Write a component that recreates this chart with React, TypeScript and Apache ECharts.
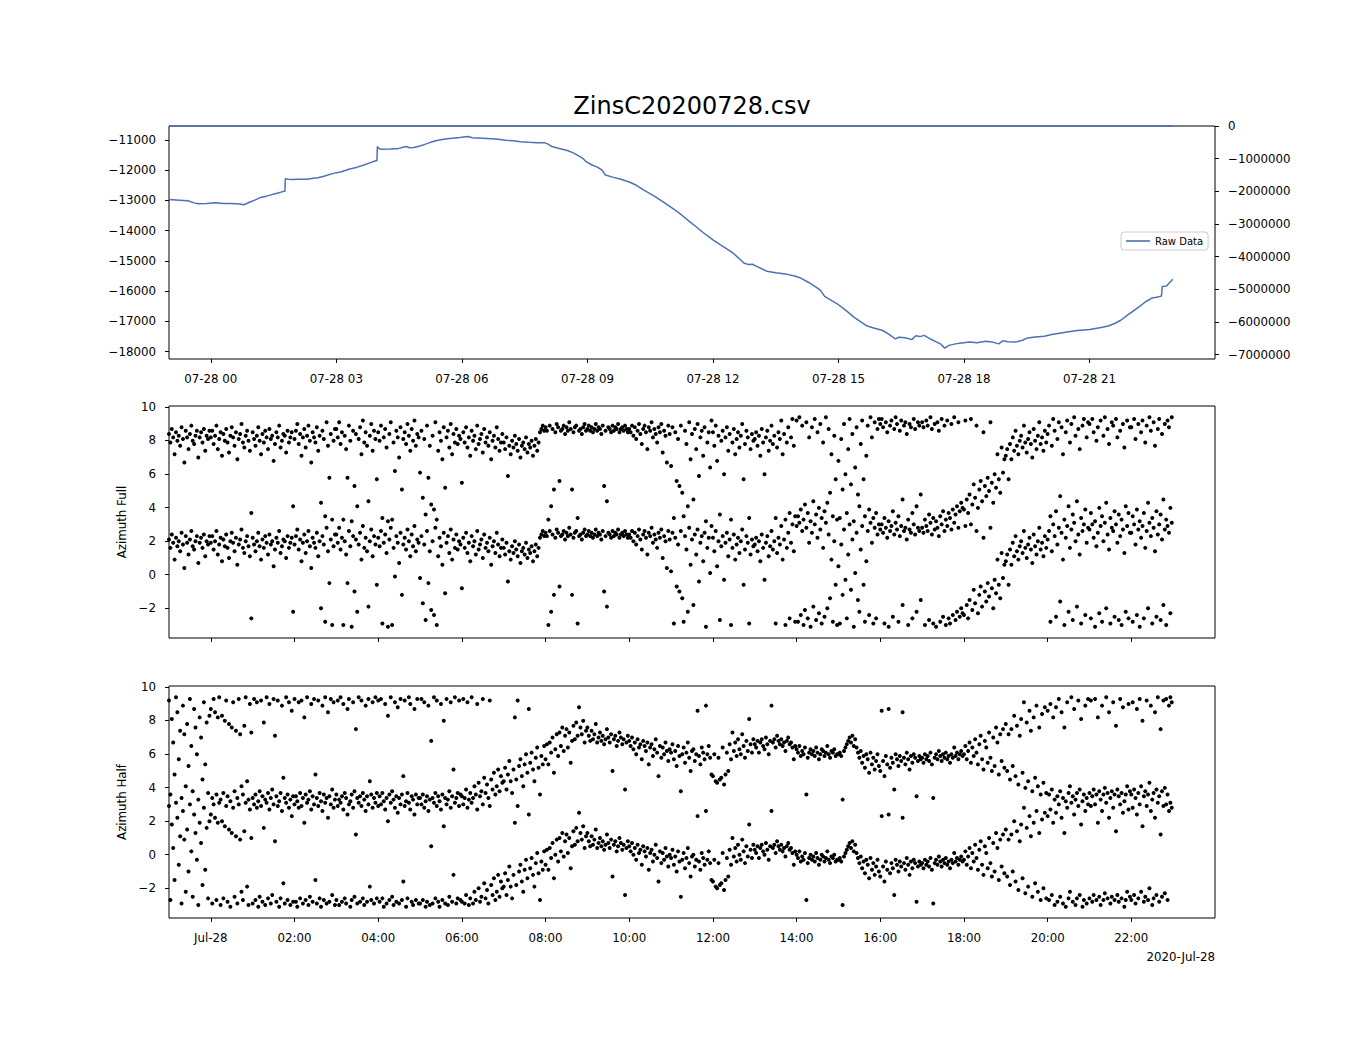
import React, { useEffect, useRef } from "react";
import * as echarts from "echarts";

const TITLE = "ZinsC20200728.csv";
const DATE_NOTE = "2020-Jul-28";

// Raw data line (hours relative to 2020-07-28 00:00)
const RAW_HOURS = [
  -1.0, -0.75, -0.55, -0.4, -0.3, -0.1, 0.1, 0.3, 0.46, 0.6, 0.7, 0.78, 0.85, 0.92, 1.05, 1.19, 1.35, 1.56, 1.74, 1.77,
  1.78, 1.85, 1.92, 2.1, 2.29, 2.45, 2.56, 2.7, 2.93, 3.1, 3.3, 3.5, 3.66, 3.8, 3.94, 3.97, 3.98, 4.03, 4.07, 4.3,
  4.49, 4.6, 4.67, 4.75, 4.85, 5.0, 5.13, 5.25, 5.4, 5.6, 5.77, 5.95, 6.14, 6.25, 6.5, 6.7, 6.87, 7.05, 7.23, 7.4,
  7.6, 7.8, 7.97, 8.05, 8.15, 8.35, 8.52, 8.65, 8.79, 8.9, 8.97, 9.1, 9.25, 9.35, 9.43, 9.6, 9.8, 10.0, 10.16, 10.35,
  10.6, 10.81, 11.08, 11.25, 11.45, 11.6, 11.75, 12.0, 12.2, 12.35, 12.5, 12.74, 12.85, 12.94, 13.05, 13.29, 13.5, 13.78, 13.95, 14.08,
  14.3, 14.5, 14.57, 14.67, 14.8, 14.97, 15.2, 15.37, 15.5, 15.66, 15.8, 16.06, 16.2, 16.36, 16.45, 16.6, 16.75, 16.85, 16.95, 17.05,
  17.2, 17.35, 17.45, 17.54, 17.64, 17.8, 17.94, 18.14, 18.3, 18.53, 18.7, 18.83, 18.93, 19.05, 19.23, 19.4, 19.52, 19.7, 19.92, 20.1,
  20.32, 20.5, 20.71, 21.01, 21.31, 21.45, 21.6, 21.75, 21.9, 22.05, 22.2, 22.35, 22.49, 22.6, 22.69, 22.72, 22.74, 22.84, 22.9, 22.99,
];
const RAW_VALUES = [
  -12970, -12990, -13010, -13080, -13110, -13100, -13080, -13100, -13100, -13110, -13120, -13145, -13110, -13060, -12990, -12900, -12850, -12770, -12700, -12700,
  -12280, -12300, -12310, -12300, -12300, -12270, -12250, -12200, -12106, -12060, -11970, -11900, -11830, -11760, -11690, -11690, -11220, -11290, -11310, -11300,
  -11280, -11240, -11220, -11260, -11250, -11200, -11140, -11080, -11020, -10970, -10945, -10920, -10890, -10930, -10945, -10960, -10980, -11010, -11030, -11060,
  -11080, -11090, -11090, -11130, -11220, -11290, -11350, -11420, -11530, -11620, -11720, -11820, -11907, -12000, -12160, -12230, -12300, -12390, -12490, -12660,
  -12860, -13045, -13300, -13480, -13710, -13870, -14043, -14300, -14484, -14620, -14760, -15070, -15120, -15110, -15180, -15343, -15390, -15443, -15500, -15553,
  -15720, -15900, -15974, -16172, -16280, -16415, -16660, -16856, -16980, -17132, -17200, -17298, -17420, -17573, -17520, -17540, -17600, -17473, -17500, -17460,
  -17580, -17682, -17750, -17880, -17790, -17740, -17715, -17682, -17700, -17650, -17690, -17740, -17640, -17670, -17682, -17620, -17543, -17510, -17490, -17430,
  -17380, -17340, -17300, -17268, -17190, -17150, -17068, -16960, -16800, -16650, -16500, -16340, -16225, -16200, -16170, -16160, -15840, -15830, -15740, -15608,
];
// Secondary (right) axis series: flat at 0
const TWIN_HOURS = [-1.0, 23.0];
const TWIN_VALUES = [0, 0];

const TOP_TICKS = [0, 3, 6, 9, 12, 15, 18, 21];
const TOP_TICK_LABELS = ["07-28 00", "07-28 03", "07-28 06", "07-28 09", "07-28 12", "07-28 15", "07-28 18", "07-28 21"];
const BOTTOM_TICKS = [0, 2, 4, 6, 8, 10, 12, 14, 16, 18, 20, 22];
const BOTTOM_TICK_LABELS = ["Jul-28", "02:00", "04:00", "06:00", "08:00", "10:00", "12:00", "14:00", "16:00", "18:00", "20:00", "22:00"];
const LEFT_TICKS = [-18000, -17000, -16000, -15000, -14000, -13000, -12000, -11000];
const RIGHT_TICKS = [-7000000, -6000000, -5000000, -4000000, -3000000, -2000000, -1000000, 0];
const AZ_TICKS = [-2, 0, 2, 4, 6, 8, 10];

// Azimuth samples: one row per hour starting at 2020-07-27 23:00, 30 samples per hour (2 min)
const SAMPLE_START_HOUR = -1;
const SAMPLES_PER_HOUR = 30;

const FULL_ROWS = [
  [2.1,1.6,2.4,1.9,0.9,2.2,1.7,2.0,1.4,2.5,1.8,0.4,2.3,1.9,1.2,2.1,2.6,1.7,1.5,2.0,2.3,0.7,1.9,2.2,1.6,2.4,1.1,2.0,1.8,2.3],
  [1.9,2.3,1.5,2.0,2.6,1.2,1.8,2.2,0.8,2.1,1.7,2.4,1.6,1.0,2.0,2.5,1.9,1.4,2.2,0.6,1.8,2.1,2.7,1.6,1.3,2.0,2.3,1.7,1.1,-2.6],
  [2.2,1.8,1.4,2.0,2.5,1.7,0.9,2.1,1.6,2.3,1.9,1.2,2.4,1.8,2.0,0.5,1.5,2.2,1.9,2.6,1.3,1.7,2.1,2.0,1.0,2.3,1.6,1.9,2.2,-2.2],
  [1.8,2.3,2.7,1.5,2.1,0.8,1.9,2.4,1.3,2.0,2.6,1.7,0.4,2.2,1.9,1.6,2.5,1.1,2.0,-2.0,2.3,1.8,-2.8,2.8,1.4,-0.5,2.1,-3.0,1.7,2.4],
  [2.4,1.9,2.8,1.5,2.2,-3.0,2.0,1.2,-0.5,2.6,1.7,-3.1,2.3,-1.0,2.1,-2.2,1.8,2.5,0.9,2.9,1.6,2.2,1.4,-1.9,2.0,2.7,1.1,2.3,1.8,-0.6],
  [2.2,1.7,2.6,-2.9,1.9,2.4,1.3,-3.1,2.1,2.8,-3.0,1.6,-0.1,2.3,1.9,0.7,2.5,-1.2,1.8,2.2,1.5,2.7,2.0,1.1,2.4,1.7,2.9,1.4,2.1,1.9],
  [-0.2,2.3,-1.7,1.8,-2.7,2.6,-0.5,1.4,-2.1,2.0,-2.4,2.8,-3.0,1.1,2.2,1.7,0.6,2.5,-1.1,1.9,2.3,1.3,2.7,0.9,2.1,1.6,2.4,1.5,2.0,1.8],
  [-0.8,2.2,1.6,2.5,1.3,1.9,0.8,2.3,1.7,2.0,1.2,2.6,1.5,1.8,2.1,1.0,2.4,1.6,1.9,1.4,2.2,0.6,1.7,2.0,1.3,2.5,1.8,1.1,1.6,2.1],
  [1.6,1.2,1.9,-0.4,1.4,0.9,1.7,1.3,2.0,1.5,1.1,1.8,0.7,1.4,1.6,1.2,1.9,1.0,1.5,1.3,1.7,0.8,1.4,1.8,1.1,1.6,2.2,2.4,2.6,2.3],
  [2.5,2.3,-3.0,2.6,-2.2,2.4,-1.2,2.2,2.7,2.5,-0.7,2.3,2.4,2.6,2.1,2.5,2.3,2.8,2.4,-1.2,2.2,2.5,2.6,-2.9,2.3,2.4,2.1,2.5,2.7,2.3],
  [2.4,2.6,2.3,2.5,2.2,2.4,2.7,2.3,2.5,2.4,2.1,2.6,-1.0,2.3,-1.9,2.5,2.4,2.2,2.6,2.3,2.5,2.4,2.7,2.2,2.4,2.5,2.3,2.6,2.4,2.2],
  [2.4,2.2,2.6,2.0,2.5,1.8,2.3,2.7,2.1,1.5,2.4,2.6,2.2,1.2,2.5,2.3,2.8,1.9,2.4,2.1,1.6,2.5,2.2,2.7,1.0,2.3,2.0,0.4,2.6,2.1],
  [0.2,2.5,-2.9,2.2,-0.7,1.8,-1.0,2.6,-1.4,-2.8,2.3,1.5,-2.2,2.8,0.6,2.1,-1.8,2.4,1.2,2.7,-0.4,1.9,2.3,0.8,2.5,-3.1,1.6,2.2,0.1,2.9],
  [2.2,1.4,2.6,0.5,2.0,-2.7,1.7,2.3,-0.3,1.9,2.5,1.1,2.1,-3.0,1.6,2.4,0.9,1.8,2.2,1.3,2.0,2.7,-0.6,1.5,2.3,1.9,-2.9,1.2,2.1,1.7],
  [1.8,2.2,1.4,2.0,0.8,2.4,1.6,-0.3,1.9,2.3,1.1,1.7,2.6,1.5,2.0,-2.9,1.3,2.2,1.8,2.9,0.9,2.1,-3.0,1.6,2.5,-2.6,1.9,3.0,1.4,-2.8],
  [2.9,-2.8,3.1,-2.4,2.6,-3.0,-2.1,2.8,-2.6,1.9,-3.1,2.5,-1.9,3.0,-2.7,2.2,-2.3,2.7,-2.9,1.6,-2.5,3.1,-2.0,2.4,-1.4,0.9,-2.8,2.0,-0.6,-3.0],
  [0.5,-2.9,1.8,-1.2,2.7,-0.3,-2.6,1.2,3.0,-0.9,2.1,-3.1,0.1,2.5,-1.5,-2.2,1.5,2.9,-0.6,-2.8,0.8,2.6,-2.4,3.1,1.9,-2.9,2.8,-2.6,2.4,3.0],
  [2.7,3.0,2.5,-2.9,2.8,2.2,-3.1,2.6,2.9,-2.5,2.4,3.1,2.7,-2.8,2.3,2.9,-1.8,2.6,2.8,2.1,-3.0,2.7,2.5,-2.6,3.0,2.4,-2.2,2.8,2.6,-1.5],
  [2.8,2.5,-3.0,2.9,2.6,-2.7,3.1,2.4,-2.9,2.7,-3.1,2.8,2.3,-2.8,3.0,-2.5,2.6,-3.0,2.9,-2.6,-2.9,2.7,-2.4,3.1,-2.7,-2.2,2.8,-2.5,-2.0,-2.3],
  [-2.4,2.9,-1.8,-2.6,-1.5,3.0,-2.1,-0.9,-1.7,2.6,-2.3,-1.2,-0.7,-1.9,2.2,-1.0,-1.6,-0.5,-1.3,2.8,-0.8,-2.0,-0.3,-1.1,0.9,-0.6,-1.4,1.3,-0.2,0.6],
  [0.8,1.2,-0.6,1.5,0.6,1.9,1.1,2.3,1.4,0.9,1.7,2.0,1.3,2.6,1.6,1.0,1.8,2.2,1.5,0.7,2.4,1.7,1.2,2.0,2.8,1.5,1.9,1.1,2.3,1.6],
  [2.1,2.6,-2.8,1.4,3.0,2.3,-2.5,1.8,2.8,-1.6,2.5,0.9,-3.0,2.2,2.9,-2.2,1.6,2.7,-2.7,3.1,2.0,-1.9,2.4,1.2,-2.9,2.6,3.0,-2.4,1.9,2.8],
  [2.7,-2.6,3.0,2.2,-3.1,1.7,2.5,-2.3,2.9,-2.8,2.0,3.1,-2.0,2.4,1.5,-2.9,2.8,2.6,-2.5,3.0,1.9,-2.7,2.3,-3.0,2.7,1.3,-2.2,2.9,-2.6,2.5],
  [2.5,-2.8,3.0,1.8,-2.4,2.7,-3.1,2.2,2.9,-2.6,1.6,2.6,-2.0,3.1,2.3,-2.9,2.8,1.4,-2.5,2.4,3.0,-2.7,2.1,-1.8,2.7,-3.0,2.9,2.5,-2.3,3.1],
];

const HALF_ROWS = [
  [2.9,-2.7,1.8,0.4,-1.5,3.1,2.2,-0.6,1.1,-2.9,2.6,0.9,-2.2,1.5,-1.0,3.0,0.2,-2.5,2.4,1.3,-0.3,-3.0,1.9,0.7,-1.8,2.8,-0.9,1.6,-2.6,2.0],
  [2.4,-2.9,3.0,2.2,-2.7,1.9,3.1,-3.0,2.0,-2.6,1.7,2.9,-2.8,1.5,-3.1,1.3,2.8,-2.5,1.1,-2.9,3.0,0.9,-2.2,-2.7,1.4,3.1,-1.9,-3.0,2.7,1.0],
  [-2.9,3.0,-2.7,2.8,-3.1,-2.5,2.9,-2.8,1.6,-3.0,3.1,-2.6,2.7,-2.9,-2.4,3.0,0.8,-2.8,2.9,-3.1,-2.6,2.6,-1.7,-2.9,3.1,-2.7,2.8,-3.0,2.3,-2.8],
  [3.0,-2.8,-3.1,2.8,-2.6,2.9,-2.9,1.9,-2.7,3.1,-3.0,-2.5,2.7,-2.8,3.0,-1.5,-2.9,2.9,-2.6,-3.1,2.6,-2.7,3.1,-2.9,2.2,-2.8,3.0,-2.4,2.8,-3.0],
  [-2.7,2.9,-3.0,3.1,-2.8,2.7,-2.6,-2.9,2.4,3.0,-3.1,-2.7,2.8,-2.5,1.2,-2.9,3.1,-2.8,2.9,-2.6,-3.0,2.6,-2.8,3.0,-1.9,-2.7,2.8,-2.9,3.1,-2.6],
  [2.9,-2.8,3.0,-2.6,-3.1,2.7,-2.9,2.0,-2.7,3.1,-2.5,-3.0,2.8,-2.8,2.5,-2.9,3.0,-2.7,-1.6,2.9,-3.1,-2.6,3.1,2.7,-2.8,-3.0,2.4,-2.7,3.0,-2.9],
  [-2.9,3.0,-2.7,2.8,-3.1,-2.8,2.6,-3.0,0.5,-2.9,3.1,-2.6,2.9,-2.8,-3.1,2.7,-2.7,1.7,-2.9,3.0,-3.0,-2.5,2.8,-2.8,-1.2,3.1,-2.9,-2.6,2.9,-2.7],
  [-2.8,3.0,-2.9,-2.4,2.8,-3.0,-2.6,3.1,-2.9,-2.2,-2.7,2.7,-2.0,-2.8,-2.5,3.0,-1.7,-2.6,-2.1,-2.9,2.9,-1.8,-2.4,-1.4,-2.7,-2.2,-1.2,-2.5,-1.6,-2.0],
  [-1.9,-1.1,-2.4,-1.5,-0.7,-1.9,-2.6,-1.2,1.9,-1.8,2.9,-1.0,-0.6,-1.6,-2.2,-0.9,-0.3,-1.4,2.4,-0.8,-0.2,-1.2,-1.9,-0.5,0.1,-1.1,-2.7,-0.4,-0.9,0.2],
  [-0.6,0.3,-0.9,0.4,-0.2,0.7,-1.4,0.0,0.9,-0.4,1.0,0.2,1.3,-0.1,0.8,1.2,0.1,1.0,-0.8,0.5,1.4,0.6,1.6,0.8,2.5,1.3,0.9,1.7,0.4,1.1],
  [1.3,0.8,0.5,1.1,0.6,0.9,1.5,0.4,0.7,1.0,0.5,0.8,0.3,0.6,1.2,0.7,0.4,0.9,-1.3,0.6,0.8,0.2,0.5,1.0,0.7,0.3,0.6,-2.4,0.4,0.8],
  [0.5,0.2,0.7,0.0,0.4,-0.3,0.6,0.1,0.3,-0.6,0.5,0.2,-0.1,0.4,-0.9,0.1,0.3,-0.4,0.0,0.6,-0.2,-1.6,0.2,-0.5,0.1,-0.3,0.4,-0.1,-0.7,0.0],
  [-0.2,0.3,-0.6,-0.1,-1.0,0.2,-0.4,-2.5,-0.3,0.1,-0.8,-0.2,0.4,-0.5,-1.3,-0.1,0.0,-0.7,-0.3,2.3,-0.4,-0.9,0.1,-0.2,-0.6,2.6,-0.3,0.2,-0.5,-1.5],
  [-1.6,-0.3,-1.9,-2.0,-0.5,-1.8,-1.7,0.1,-2.1,-1.5,-0.2,-1.3,0.3,-0.6,1.0,-0.1,0.4,-0.4,0.6,0.0,-0.3,0.9,0.2,-0.5,0.5,-0.1,1.8,0.3,-0.2,0.6],
  [0.3,0.1,0.5,-0.2,0.4,0.6,0.2,0.0,0.7,0.3,-0.3,0.5,2.6,0.4,0.6,0.1,0.8,0.5,0.3,0.6,0.2,0.4,-0.1,0.5,0.7,0.3,0.4,0.1,-0.6,0.2],
  [0.0,-0.2,0.2,-0.4,-0.1,-0.3,0.1,-2.7,-0.5,-0.2,0.0,-0.3,-0.1,-0.4,0.1,-0.2,-0.6,-0.3,0.0,-0.1,-0.4,-0.2,0.2,-0.3,-0.5,-0.1,-0.2,0.0,-0.4,-0.3],
  [-0.3,-0.2,-0.4,-3.0,-0.1,0.1,0.3,0.5,0.7,0.4,0.8,0.2,0.6,0.1,-0.2,-0.5,-0.1,-0.8,-0.4,-1.1,-0.3,-0.6,-1.4,-0.2,-0.9,-0.5,-1.2,-0.7,-0.3,-1.0],
  [-1.3,2.3,-0.7,-1.6,-0.4,-0.9,2.4,-1.1,-0.5,-0.8,-2.4,-0.3,-0.6,-1.0,-0.4,-0.7,2.2,-0.5,-0.9,-0.2,-0.6,-1.2,-0.4,-0.8,-0.3,-0.5,-2.8,-0.7,-0.4,-0.6],
  [-0.5,-0.8,-0.3,-0.6,-0.4,-0.7,-0.2,-0.9,-2.9,-0.5,-0.3,-0.6,-0.1,-0.4,-0.7,-0.3,-0.5,-0.2,-0.6,-0.4,-0.8,-0.3,-0.5,0.1,-0.4,-0.2,-0.6,-0.3,-0.1,-0.4],
  [-0.3,0.2,-0.6,-0.1,0.4,-0.8,0.1,-0.4,0.6,-0.2,-0.9,0.3,0.8,-0.6,-1.2,0.5,0.1,-0.8,1.0,-0.5,-1.3,0.7,-1.0,1.3,0.4,-1.5,0.9,-0.7,1.2,-1.1],
  [1.5,-1.3,0.9,-1.8,1.2,-1.0,2.0,-1.6,1.4,-2.1,0.8,1.8,-1.4,2.8,-2.3,1.6,-1.9,2.3,1.1,-2.5,1.9,-1.7,2.6,-2.2,1.3,-2.7,2.1,-2.0,2.5,-2.6],
  [2.3,-2.7,2.7,-2.4,1.9,-3.0,2.5,-2.8,3.0,-2.5,2.2,-2.9,1.3,-3.1,2.8,-2.6,-2.2,3.1,-2.8,2.4,-3.0,-2.6,2.9,-2.4,1.8,-3.1,-2.7,2.6,-2.9,3.0],
  [-2.6,2.9,-2.8,-2.4,3.0,-2.7,1.9,-2.5,-3.0,2.6,-2.7,-2.3,3.1,-2.6,2.2,-2.9,-2.5,2.8,-2.7,1.4,-2.4,-2.8,3.0,-2.6,2.5,-3.1,-2.7,-2.2,2.7,-2.5],
  [-2.7,2.8,-2.4,-2.9,2.4,-2.6,3.0,-2.2,1.7,-2.8,-2.5,2.9,-2.7,-2.0,2.6,-3.0,-2.6,2.2,-2.4,3.1,-2.8,1.2,-2.5,2.9,-2.3,3.0,-2.7,2.6,3.1,2.8],
];

const FONT = "DejaVu Sans";
const LINE_BLUE = "#4c72b0";
const MINUS = "\u2212";

// The azimuth panels show each sample at theta and at theta + 2*pi (wrapped view over [-pi, 3pi]).
function azimuthPoints(rows: number[][]) {
  const pts: number[][] = [];
  rows.forEach((row, r) => {
    row.forEach((theta, i) => {
      const t = SAMPLE_START_HOUR + r + i / SAMPLES_PER_HOUR;
      pts.push([t, theta]);
      pts.push([t, theta + 2 * Math.PI]);
    });
  });
  return pts;
}

const fmtNum = (v: number) => String(v).replace("-", MINUS);

function hourAxis(gridIndex: number, ticks: number[], labels: string[] | null) {
  return {
    type: "value",
    gridIndex,
    min: -1,
    max: 24,
    position: "bottom",
    axisLine: { show: false, onZero: false },
    splitLine: { show: false },
    axisTick: { show: true, customValues: ticks, length: 4, lineStyle: { color: "#000", width: 1 } },
    axisLabel: {
      show: !!labels,
      customValues: ticks,
      formatter: (v: number) => {
        const idx = ticks.indexOf(v);
        return labels && idx >= 0 ? labels[idx] : "";
      },
      color: "#000",
      fontSize: 11.8,
      fontFamily: FONT,
      margin: 14,
    },
  };
}

function valueAxis(gridIndex: number, min: number, max: number, ticks: number[], position: string, name?: string) {
  return {
    type: "value",
    gridIndex,
    min,
    max,
    position,
    name: name || "",
    nameLocation: "middle",
    nameGap: 40,
    nameRotate: 90,
    nameTextStyle: { color: "#000", fontSize: 11.8, fontFamily: FONT },
    axisLine: { show: false, onZero: false },
    splitLine: { show: false },
    axisTick: { show: true, customValues: ticks, length: 4, lineStyle: { color: "#000", width: 1 } },
    axisLabel: {
      customValues: ticks,
      formatter: (v: number) => fmtNum(v),
      color: "#000",
      fontSize: 11.8,
      fontFamily: FONT,
      margin: 13,
    },
  };
}

export default function App() {
  const ref = useRef<HTMLDivElement>(null);

  useEffect(() => {
    document.body.style.margin = "0";
    if (!ref.current) return;
    const chart = echarts.init(ref.current, null, { renderer: "svg" });

    const rawData = RAW_HOURS.map((h, i) => [h, RAW_VALUES[i]]);
    const twinData = TWIN_HOURS.map((h, i) => [h, TWIN_VALUES[i]]);
    const azMin = -Math.PI - 0.2 * Math.PI;
    const azMax = 3 * Math.PI + 0.2 * Math.PI;

    const gridStyle = { show: true, borderColor: "#000", borderWidth: 1, backgroundColor: "transparent" };

    chart.setOption({
      animation: false,
      backgroundColor: "#fff",
      textStyle: { fontFamily: FONT },
      grid: [
        { left: 169, top: 126, width: 1046, height: 233, ...gridStyle },
        { left: 169, top: 406, width: 1046, height: 232, ...gridStyle },
        { left: 169, top: 686, width: 1046, height: 232, ...gridStyle },
      ],
      xAxis: [
        hourAxis(0, TOP_TICKS, TOP_TICK_LABELS),
        hourAxis(1, BOTTOM_TICKS, null),
        hourAxis(2, BOTTOM_TICKS, BOTTOM_TICK_LABELS),
      ],
      yAxis: [
        valueAxis(0, -18240, -10540, LEFT_TICKS, "left"),
        valueAxis(0, -7135000, 0, RIGHT_TICKS, "right"),
        valueAxis(1, azMin, azMax, AZ_TICKS, "left", "Azimuth Full"),
        valueAxis(2, azMin, azMax, AZ_TICKS, "left", "Azimuth Half"),
      ],
      legend: {
        data: ["Raw Data"],
        left: 1121,
        top: 232,
        icon: "rect",
        itemWidth: 24,
        itemHeight: 1.6,
        itemGap: 4,
        padding: [4, 5, 4, 5],
        borderColor: "#cccccc",
        borderWidth: 1,
        borderRadius: 3,
        backgroundColor: "rgba(255,255,255,0.85)",
        textStyle: { color: "#000", fontSize: 10, fontFamily: FONT },
      },
      graphic: [
        {
          type: "text",
          x: 692,
          y: 106,
          style: { text: TITLE, fontSize: 24, fontFamily: FONT, fill: "#000", textAlign: "center", textVerticalAlign: "middle" },
        },
        {
          type: "text",
          x: 1215,
          y: 957,
          style: { text: DATE_NOTE, fontSize: 11.8, fontFamily: FONT, fill: "#000", textAlign: "right", textVerticalAlign: "middle" },
        },
      ],
      series: [
        {
          name: "Raw Data",
          type: "line",
          xAxisIndex: 0,
          yAxisIndex: 0,
          data: rawData,
          symbol: "none",
          lineStyle: { color: LINE_BLUE, width: 1.5 },
          itemStyle: { color: LINE_BLUE },
        },
        {
          name: "twin",
          type: "line",
          xAxisIndex: 0,
          yAxisIndex: 1,
          data: twinData,
          symbol: "none",
          clip: false,
          lineStyle: { color: LINE_BLUE, width: 1.5 },
          itemStyle: { color: LINE_BLUE },
        },
        {
          name: "Azimuth Full",
          type: "scatter",
          xAxisIndex: 1,
          yAxisIndex: 2,
          data: azimuthPoints(FULL_ROWS),
          symbol: "circle",
          symbolSize: 4,
          itemStyle: { color: "#000", opacity: 1 },
        },
        {
          name: "Azimuth Half",
          type: "scatter",
          xAxisIndex: 2,
          yAxisIndex: 3,
          data: azimuthPoints(HALF_ROWS),
          symbol: "circle",
          symbolSize: 4,
          itemStyle: { color: "#000", opacity: 1 },
        },
      ],
    });

    return () => chart.dispose();
  }, []);

  return <div ref={ref} style={{ width: 1350, height: 1050 }} />;
}
